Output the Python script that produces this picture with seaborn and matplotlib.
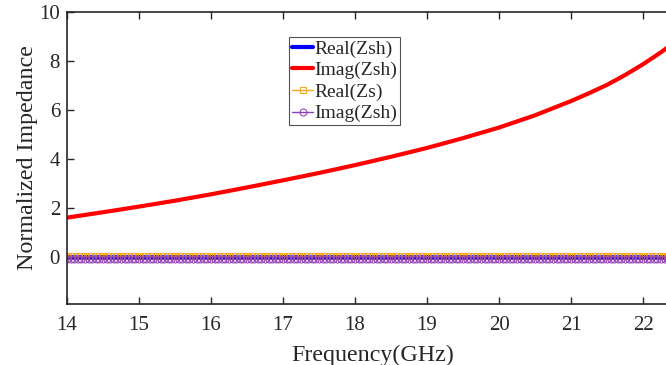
import numpy as np
import pandas as pd
import matplotlib
matplotlib.use("Agg")
import matplotlib.pyplot as plt
import seaborn as sns

# Data
freq_curve = [14.0, 14.5, 15.0, 15.5, 16.0, 16.5, 17.0, 17.5, 18.0, 18.5, 19.0,
              19.5, 20.0, 20.5, 21.0, 21.25, 21.5, 21.75, 22.0, 22.25, 22.5]
imag_zsh = [1.62, 1.84, 2.07, 2.31, 2.57, 2.85, 3.14, 3.44, 3.76, 4.10, 4.46,
            4.86, 5.29, 5.79, 6.37, 6.69, 7.03, 7.43, 7.87, 8.36, 8.90]
freq_dense = np.round(np.arange(14.0, 22.55, 0.05), 2)
real_zsh = np.full(len(freq_dense), 0.0)
real_zs = np.full(len(freq_dense), 0.05)
imag_zsh_marked = np.full(len(freq_dense), -0.05)

xticks = [14, 15, 16, 17, 18, 19, 20, 21, 22]
yticks = [0, 2, 4, 6, 8, 10]

sns.set_style("ticks")
plt.rcParams['font.family'] = ['Liberation Serif', 'DejaVu Serif']
plt.rcParams['xtick.direction'] = 'in'
plt.rcParams['ytick.direction'] = 'in'

fig = plt.figure(figsize=(6.66, 3.65), dpi=100)
ax = fig.add_axes([67/666, 61/365, 612/666, 292/365])

df_dense = pd.DataFrame({"f": freq_dense, "rzsh": real_zsh, "rzs": real_zs, "izm": imag_zsh_marked})
df_curve = pd.DataFrame({"f": freq_curve, "izsh": imag_zsh})

sns.lineplot(data=df_dense, x="f", y="rzsh", ax=ax, color="#0000ff", lw=3, label="Real(Zsh)")
sns.lineplot(data=df_curve, x="f", y="izsh", ax=ax, color="#ff0000", lw=3, label="Imag(Zsh)")
sns.lineplot(data=df_dense, x="f", y="rzs", ax=ax, color="#f5a623", lw=1, marker="s",
             markersize=4, markerfacecolor="none", markeredgecolor="#f5a623", label="Real(Zs)")
sns.lineplot(data=df_dense, x="f", y="izm", ax=ax, color="#8e3fb5", lw=1, marker="o",
             markersize=5, markerfacecolor="none", markeredgecolor="#8e3fb5", label="Imag(Zsh)")

ax.set_xlim(14, 22.5)
ax.set_ylim(-1.9, 10)
ax.set_xticks(xticks)
ax.set_yticks(yticks)
ax.tick_params(axis='both', labelsize=15, length=5, width=1, top=True, right=True,
               colors="#262626")
ax.tick_params(axis='x', pad=8.5)
ax.tick_params(axis='y', pad=5)
for s in ax.spines.values():
    s.set_linewidth(1.2)
    s.set_color("#262626")
ax.set_xlabel("Frequency(GHz)", fontsize=17.3, color="#262626", labelpad=7)
ax.set_ylabel("Normalized Impedance", fontsize=17.3, color="#262626", labelpad=1)

leg = ax.legend(loc="upper left", bbox_to_anchor=(0.363, 0.914), fontsize=14,
                frameon=True, fancybox=False, edgecolor="#262626", handlelength=1.1,
                handletextpad=0.05, borderpad=0.15, labelspacing=0.2, borderaxespad=0)
leg.get_frame().set_linewidth(0.8)

fig.savefig("out.png", dpi=100)
